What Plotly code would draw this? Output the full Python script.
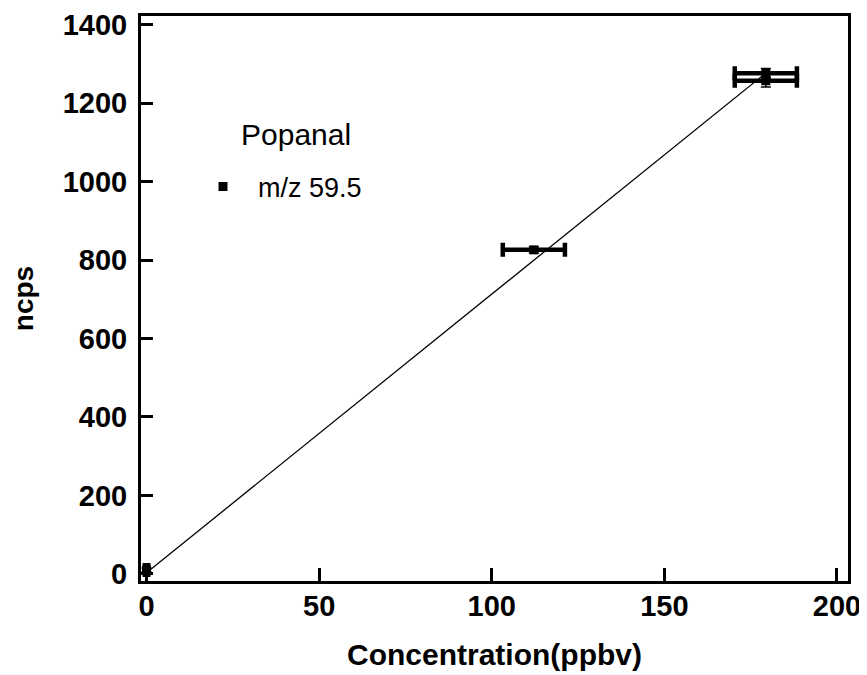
import plotly.graph_objects as go

# data
conc = [0, 112.2, 179.4, 179.4]
ncps = [10, 826, 1276, 1257]
conc_err = [0.5, 9, 9, 9]
ncps_err_plus = [5, 8, 12, 8]
ncps_err_minus = [5, 8, 12, 16]

fit_slope = 7.1
fit_intercept = 3
fit_x = [0, 179]
fit_y = [fit_intercept + fit_slope * v for v in fit_x]

x_ticks = [0, 50, 100, 150, 200]
y_ticks = [0, 200, 400, 600, 800, 1000, 1200, 1400]

legend_title = "Popanal"
series_name = "m/z 59.5"

FONT = "Liberation Sans"

fig = go.Figure()

fig.add_trace(go.Scatter(
    x=fit_x, y=fit_y, mode="lines",
    line=dict(color="black", width=1.3),
    showlegend=False, hoverinfo="skip"))

fig.add_trace(go.Scatter(
    x=conc, y=ncps, mode="markers",
    marker=dict(symbol="square", size=9, color="black"),
    error_x=dict(type="data", array=conc_err, color="black", thickness=4.5, width=7),
    error_y=dict(type="data", array=ncps_err_plus, arrayminus=ncps_err_minus,
                 color="black", thickness=1.5, width=5),
    name="\u00a0\u00a0" + series_name, showlegend=True))

fig.add_annotation(
    text=legend_title, xref="paper", yref="paper",
    x=0.1386, y=0.7894, xanchor="left", yanchor="middle",
    showarrow=False, font=dict(size=30, family=FONT, color="black"))

fig.update_layout(
    width=859, height=667,
    margin=dict(l=133, r=19, t=8, b=94),
    paper_bgcolor="white", plot_bgcolor="white",
    font=dict(family=FONT, color="black"),
    legend=dict(
        x=0.0877, y=0.6973, xanchor="left", yanchor="middle",
        font=dict(size=27, family=FONT),
        bgcolor="rgba(0,0,0,0)", itemwidth=30,
    ),
    xaxis=dict(
        range=[-1.6, 203.2], tickvals=x_ticks, ticks="inside", ticklen=13, tickwidth=3,
        tickcolor="black", showline=True, linewidth=3, linecolor="black", mirror=True,
        showgrid=False, zeroline=False, automargin=False, ticklabelstandoff=-3,
        tickfont=dict(size=29, family=FONT, weight="bold"),
        title=dict(text="Concentration(ppbv)", font=dict(size=30, family=FONT, weight="bold"), standoff=24),
    ),
    yaxis=dict(
        range=[-18, 1422], tickvals=y_ticks, ticks="inside", ticklen=12, tickwidth=3,
        tickcolor="black", showline=True, linewidth=3, linecolor="black", mirror=True,
        showgrid=False, zeroline=False, automargin=False, ticklabelstandoff=5,
        tickfont=dict(size=29, family=FONT, weight="bold"),
        title=dict(text="ncps", font=dict(size=28, family=FONT, weight="bold"), standoff=33),
    ),
)

fig.write_html("out.html")
